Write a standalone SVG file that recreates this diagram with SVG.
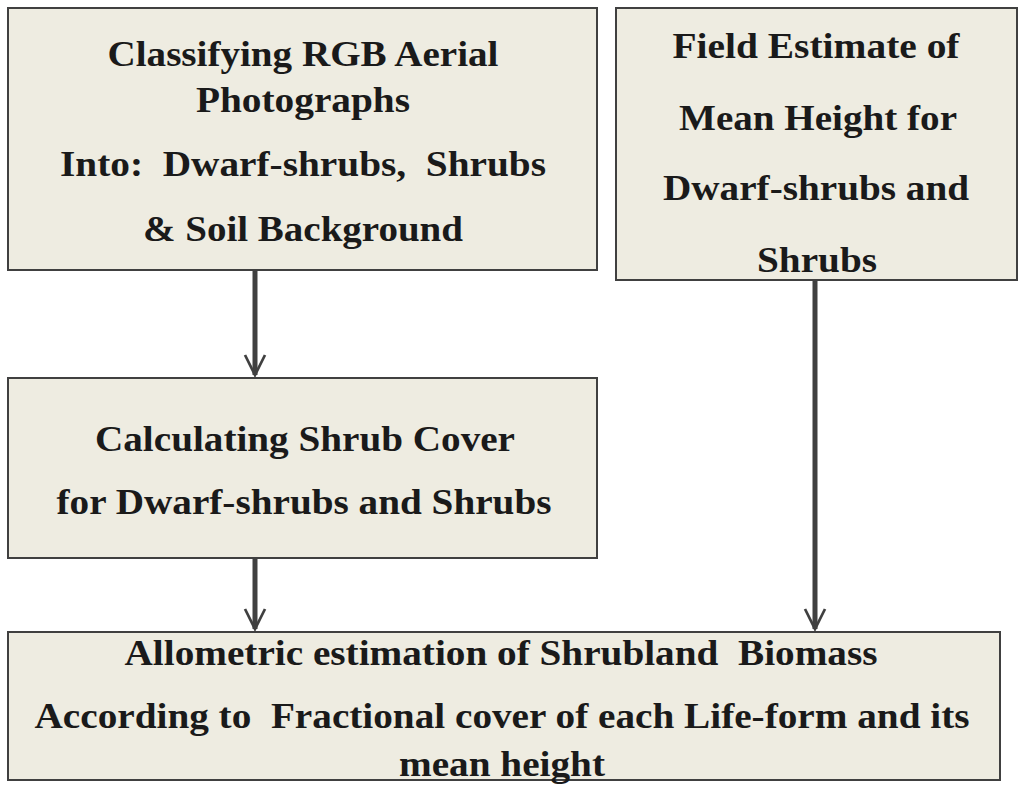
<svg xmlns="http://www.w3.org/2000/svg" width="1024" height="793" viewBox="0 0 1024 793">
<style>
.box{fill:#eeece1;stroke:#404040;stroke-width:2}
text{font-family:"Liberation Serif","Times New Roman",serif;font-weight:bold;font-size:35px;fill:#1a1a1a;text-anchor:middle;white-space:pre}
.c{stroke:#404040;stroke-width:5;fill:none}
</style>
<defs><marker id="a" viewBox="0 0 10 10" refX="9" refY="5" markerWidth="5" markerHeight="5" orient="auto" markerUnits="strokeWidth"><path d="M1,1 L9,5 L1,9" fill="none" stroke="#404040" stroke-width="1.1"/></marker></defs>
<rect width="1024" height="793" fill="#fff"/>
<g id="n1"><rect class="box" x="8" y="8" width="589" height="262"/>
<text x="303" y="66" textLength="391" lengthAdjust="spacingAndGlyphs">Classifying RGB Aerial</text>
<text x="303" y="112" textLength="214" lengthAdjust="spacingAndGlyphs">Photographs</text>
<text x="303" y="176" textLength="486" lengthAdjust="spacingAndGlyphs">Into:  Dwarf-shrubs,  Shrubs</text>
<text x="303" y="241" textLength="320" lengthAdjust="spacingAndGlyphs">&amp; Soil Background</text></g>
<g id="n2"><rect class="box" x="616" y="8" width="401" height="272"/>
<text x="816" y="58" textLength="287" lengthAdjust="spacingAndGlyphs">Field Estimate of</text>
<text x="818" y="130" textLength="278" lengthAdjust="spacingAndGlyphs">Mean Height for</text>
<text x="816" y="200" textLength="306" lengthAdjust="spacingAndGlyphs">Dwarf-shrubs and</text>
<text x="817" y="272" textLength="120" lengthAdjust="spacingAndGlyphs">Shrubs</text></g>
<g id="n3"><rect class="box" x="8" y="378" width="589" height="180"/>
<text x="305" y="451" textLength="420" lengthAdjust="spacingAndGlyphs">Calculating Shrub Cover</text>
<text x="304" y="514" textLength="495" lengthAdjust="spacingAndGlyphs">for Dwarf-shrubs and Shrubs</text></g>
<g id="n4"><rect class="box" x="8" y="632" width="992" height="148"/>
<text x="501" y="665" textLength="753" lengthAdjust="spacingAndGlyphs">Allometric estimation of Shrubland  Biomass</text>
<text x="502" y="728" textLength="935" lengthAdjust="spacingAndGlyphs">According to  Fractional cover of each Life-form and its</text>
<text x="502" y="776" textLength="206" lengthAdjust="spacingAndGlyphs">mean height</text></g>
<g id="connectors">
<line class="c" x1="255" y1="270" x2="255" y2="375" marker-end="url(#a)"/>
<line class="c" x1="815" y1="280" x2="815" y2="629" marker-end="url(#a)"/>
<line class="c" x1="255" y1="558" x2="255" y2="629" marker-end="url(#a)"/>
</g>
</svg>
